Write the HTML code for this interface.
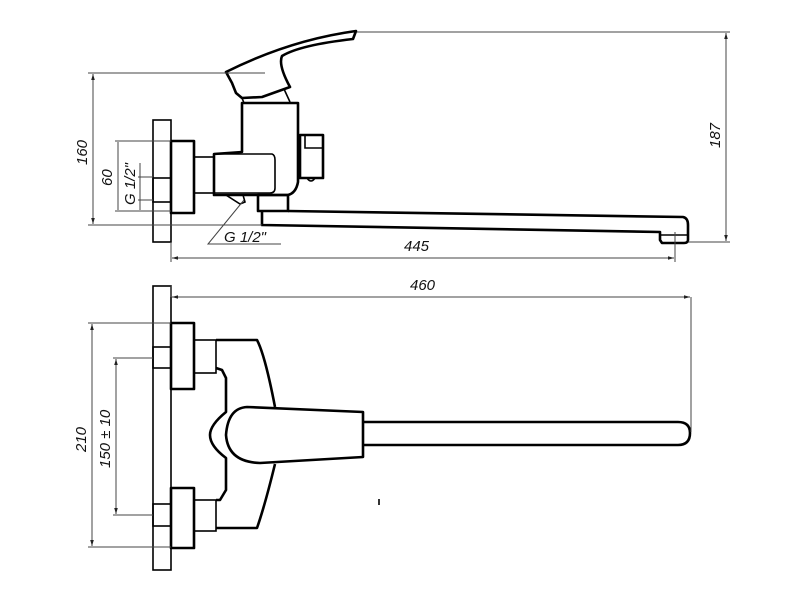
<!DOCTYPE html>
<html><head><meta charset="utf-8"><style>
html,body{margin:0;padding:0;background:#fff;}
svg{display:block;}
text{font-family:"Liberation Sans",sans-serif;font-style:italic;font-size:15px;fill:#111;}
.t{stroke:#000;stroke-width:2.6;fill:none;stroke-linejoin:round;}
.m{stroke:#000;stroke-width:1.6;fill:none;}
.d{stroke:#444;stroke-width:1;fill:none;}
</style></head><body>
<svg width="800" height="600" viewBox="0 0 800 600" xmlns="http://www.w3.org/2000/svg">
<defs><marker id="a" viewBox="0 0 10 10" refX="10" refY="5" markerWidth="8" markerHeight="6" orient="auto-start-reverse"><path d="M0,2 L10,5 L0,8z" fill="#222"/></marker></defs>

<!-- TOP VIEW -->
<rect class="m" x="153" y="120" width="18" height="122"/>
<rect class="m" x="153" y="178" width="18" height="24"/>
<rect class="t" x="171" y="141" width="23" height="72"/>
<rect class="m" x="194" y="157" width="20" height="36"/>
<path class="t" d="M242,103 L298,103 L298,182 Q296,193 288,195 L214,195 L214,154 L242,152 Z"/>
<path class="m" d="M214,154 L272,154 Q275,155 275,160 L275,188 Q275,193 270,193 L214,193"/>
<rect class="t" x="300" y="135" width="23" height="43"/>
<path class="m" d="M305,135 L305,148 L323,148"/>
<path class="m" d="M307,178 Q311,184 315,178"/>
<path class="t" d="M226,72 Q290,40 356,31 L353,39 Q300,45 282,56 Q278,65 290,87 L262,97 L242,98 L236,93 L232,83 Z"/>
<path class="m" d="M242,98 L244,103 M284,89 L290,102"/>
<path class="m" d="M226,195 L243,195 L245,202 L240,204 Z"/>
<rect class="t" x="258" y="195" width="30" height="16"/>
<path class="t" d="M288,211 L683,217 Q688,218 688,225 L688,240 Q688,243 684,243 L662,243 L660,240 L660,232 L262,225 L262,211"/>
<path class="m" d="M660,235 L687,235"/>
<!-- top dims -->
<path class="d" d="M357,32 L730,32 M688,242 L730,242"/>
<line class="d" x1="726" y1="33" x2="726" y2="241" marker-start="url(#a)" marker-end="url(#a)"/>
<text transform="translate(720,148) rotate(-90)">187</text>
<path class="d" d="M88,73 L265,73 M88,225 L262,225"/>
<line class="d" x1="93" y1="74" x2="93" y2="224" marker-start="url(#a)" marker-end="url(#a)"/>
<text transform="translate(87,165) rotate(-90)">160</text>
<path class="d" d="M115,141 L171,141 M115,211 L171,211"/>
<line class="d" x1="118" y1="142" x2="118" y2="210"/>
<text transform="translate(112,186) rotate(-90)">60</text>
<path class="d" d="M138,177 L153,177 M138,200 L153,200 M140,163 L140,210"/>
<text transform="translate(135,205) rotate(-90)">G 1/2"</text>
<path class="d" d="M244,200 L208,244 L281,244"/>
<text x="224" y="242">G 1/2"</text>
<path class="d" d="M171,242 L171,262 M675,232 L675,262"/>
<line class="d" x1="172" y1="258" x2="674" y2="258" marker-start="url(#a)" marker-end="url(#a)"/>
<text x="404" y="251">445</text>

<!-- BOTTOM VIEW -->
<rect class="m" x="153" y="286" width="18" height="284"/>
<rect class="m" x="153" y="347" width="18" height="21"/>
<rect class="m" x="153" y="504" width="18" height="22"/>
<rect class="t" x="171" y="323" width="23" height="66"/>
<rect class="t" x="171" y="488" width="23" height="60"/>
<rect class="m" x="194" y="340" width="22" height="33"/>
<rect class="m" x="194" y="500" width="22" height="31"/>
<path class="t" d="M216,340 L257,340 Q265,355 275,407"/>
<path class="t" d="M216,528 L257,528 Q265,505 275,464"/>
<path class="t" d="M216,368 L222,370 L226,378 L226,412 Q210,425 210,435 Q210,446 226,458 L226,490 L220,500 L216,500"/>
<path class="t" d="M247,407 L363,412 L363,457 L260,463 Q228,462 226,435 Q228,408 247,407 Z"/>
<path class="t" d="M363,422 L678,422 Q690,422 690,433 Q690,445 678,445 L363,445"/>
<path class="m" d="M379,499 L379,505"/>
<!-- bottom dims -->
<path class="d" d="M171,286 L171,297 M691,297 L691,432"/>
<line class="d" x1="172" y1="297" x2="690" y2="297" marker-start="url(#a)" marker-end="url(#a)"/>
<text x="410" y="290">460</text>
<path class="d" d="M88,323 L171,323 M88,547 L171,547"/>
<line class="d" x1="92" y1="324" x2="92" y2="546" marker-start="url(#a)" marker-end="url(#a)"/>
<text transform="translate(86,452) rotate(-90)">210</text>
<path class="d" d="M113,358 L153,358 M113,515 L153,515"/>
<line class="d" x1="116" y1="359" x2="116" y2="514" marker-start="url(#a)" marker-end="url(#a)"/>
<text transform="translate(110,468) rotate(-90)">150 ± 10</text>
</svg>
</body></html>
